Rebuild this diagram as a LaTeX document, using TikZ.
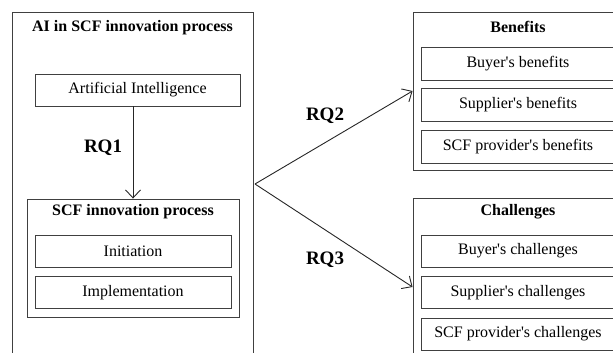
\documentclass[tikz,border=0pt]{standalone}
\usepackage{fontspec}
\setmainfont{Liberation Serif}
\usepackage{tikz}
\usetikzlibrary{arrows.meta}

\begin{document}
\begin{tikzpicture}[x=1pt,y=-1pt,
    frame/.style={draw=black!75,line width=0.9pt,inner sep=0pt},
    item/.style={frame,font=\fontsize{16}{18}\selectfont},
    title/.style={font=\fontsize{16}{18}\selectfont\bfseries},
    rq/.style={font=\fontsize{19}{21}\selectfont\bfseries},
    link/.style={draw=black!85,line width=0.9pt,-{Straight Barb[length=8pt,width=15pt]}}]
    \clip (0,0) rectangle (613,353);
    \useasboundingbox (0,0) rectangle (613,353);

    % left part
    \draw node at (132.5,194)[name=aiscf,frame,minimum width=241pt,minimum height=364pt]{};
    \draw node at (132.5,28)[name=aiscftitle,title]{AI in SCF innovation process};
    \draw node at (137.5,90)[name=ai,item,minimum width=205pt,minimum height=32pt]{Artificial Intelligence};
    \draw node at (133,258)[name=scf,frame,minimum width=212pt,minimum height=118pt]{};
    \draw node at (133,212)[name=scftitle,title]{SCF innovation process};
    \draw node at (133,251)[name=initiation,item,minimum width=196pt,minimum height=32pt]{Initiation};
    \draw node at (133,292.5)[name=implementation,item,minimum width=196pt,minimum height=32pt]{Implementation};
    \draw node at (103,148)[name=rqone,rq]{RQ1};

    \draw[link](ai.south -| scf.north) -- (scf.north);

    % right part
    \draw node at (518,91)[name=benefits,frame,minimum width=210pt,minimum height=158pt]{};
    \draw node at (518,27)[name=benefitstitle,title]{Benefits};
    \draw node at (518,63.5)[name=buyerb,item,minimum width=194pt,minimum height=33pt]{Buyer\textquotesingle s benefits};
    \draw node at (518,104.5)[name=supplierb,item,minimum width=194pt,minimum height=33pt]{Supplier\textquotesingle s benefits};
    \draw node at (518,147)[name=providerb,item,minimum width=194pt,minimum height=33pt]{SCF provider\textquotesingle s benefits};

    \draw node at (518,287)[name=challenges,frame,minimum width=210pt,minimum height=178pt]{};
    \draw node at (518,212)[name=challengestitle,title]{Challenges};
    \draw node at (518,251)[name=buyerc,item,minimum width=194pt,minimum height=32pt]{Buyer\textquotesingle s challenges};
    \draw node at (518,292.5)[name=supplierc,item,minimum width=194pt,minimum height=32pt]{Supplier\textquotesingle s challenges};
    \draw node at (518,334)[name=providerc,item,minimum width=194pt,minimum height=32pt]{SCF provider\textquotesingle s challenges};

    \coordinate (split) at (255,184);
    \draw node at (325,116)[name=rqtwo,rq]{RQ2};
    \draw node at (325,260)[name=rqthree,rq]{RQ3};

    \draw[link](split) -- (benefits.west);
    \draw[link](split) -- (challenges.west);
\end{tikzpicture}
\end{document}
